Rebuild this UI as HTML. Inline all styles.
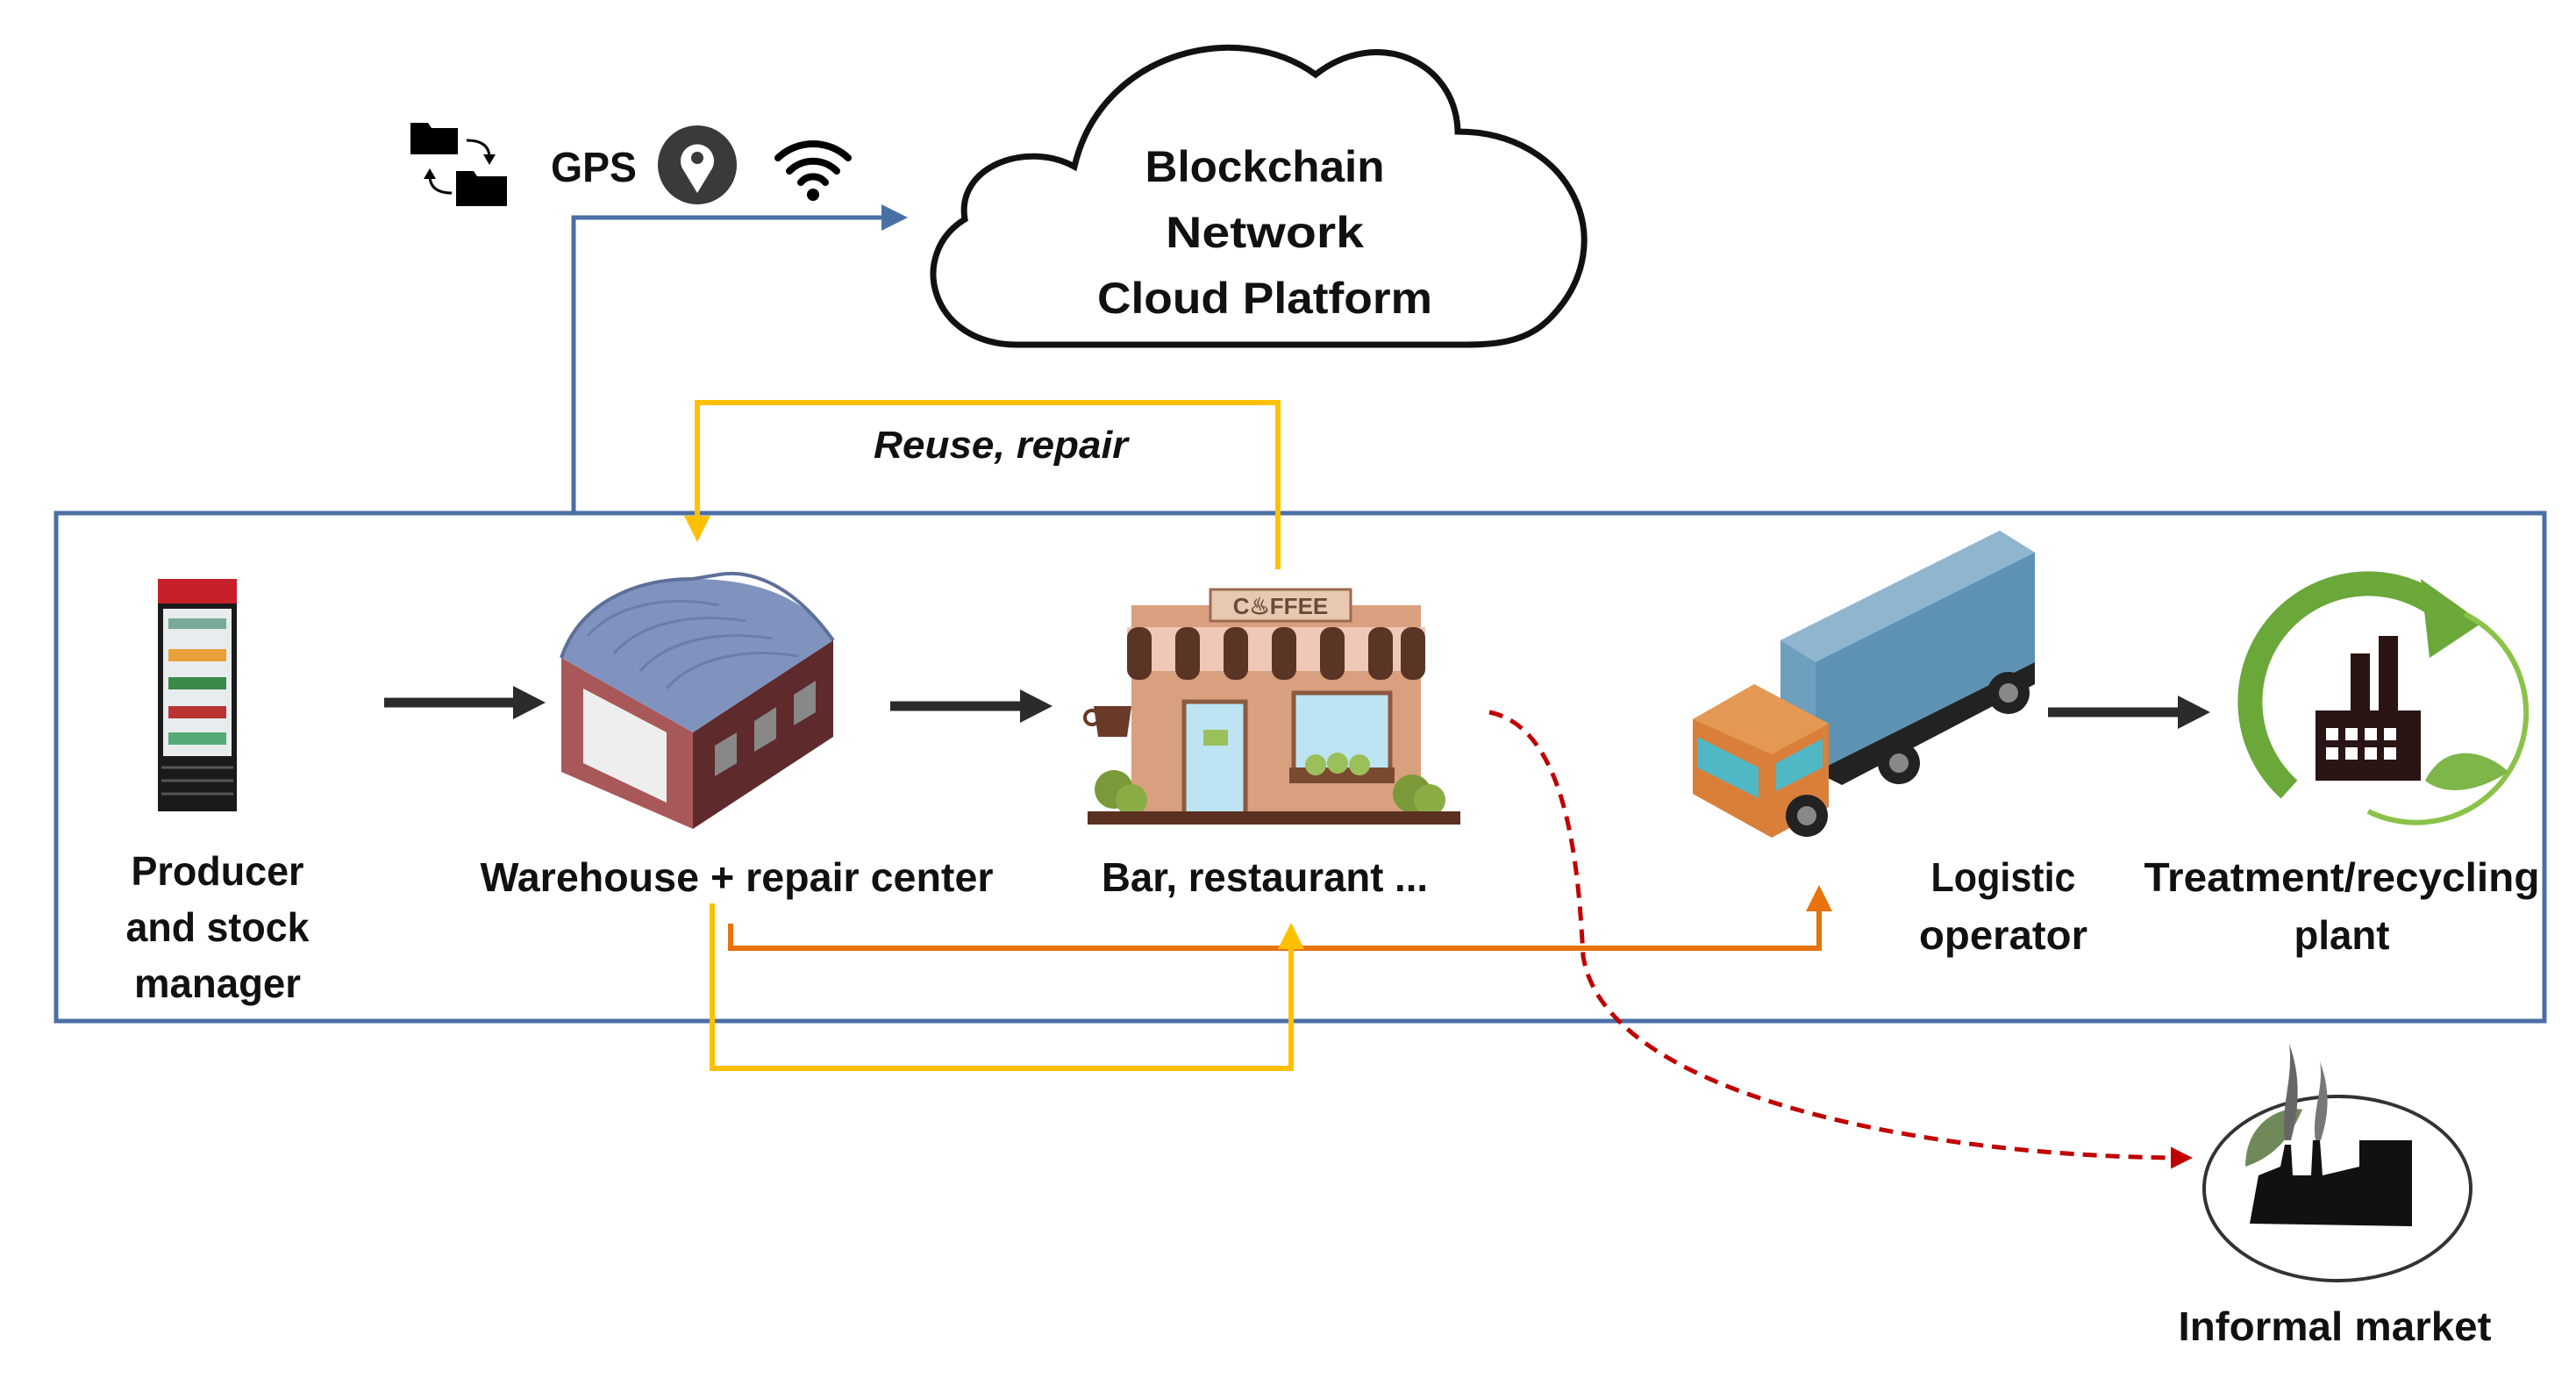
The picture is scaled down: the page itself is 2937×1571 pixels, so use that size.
<!DOCTYPE html>
<html><head><meta charset="utf-8"><style>
html,body{margin:0;padding:0;background:#fff;}
svg{display:block;}
text{font-family:"Liberation Sans",sans-serif;font-weight:bold;fill:#111;}
</style></head><body>
<svg width="2937" height="1571" viewBox="0 0 2937 1571" xmlns="http://www.w3.org/2000/svg">
<defs>
<marker id="ab" markerWidth="6" markerHeight="6" refX="5" refY="3" orient="auto" markerUnits="strokeWidth"><path d="M0,0 L6,3 L0,6 Z" fill="#4a6fa5"/></marker>
<marker id="ay" markerWidth="5" markerHeight="5" refX="4" refY="2.5" orient="auto" markerUnits="strokeWidth"><path d="M0,0 L5,2.5 L0,5 Z" fill="#ffc000"/></marker>
<marker id="ao" markerWidth="5" markerHeight="5" refX="4" refY="2.5" orient="auto" markerUnits="strokeWidth"><path d="M0,0 L5,2.5 L0,5 Z" fill="#e8720c"/></marker>
<marker id="ar" markerWidth="5" markerHeight="5" refX="4" refY="2.5" orient="auto" markerUnits="strokeWidth"><path d="M0,0 L5,2.5 L0,5 Z" fill="#c00000"/></marker>
</defs>

<!-- outer box -->
<rect x="64" y="585" width="2837" height="579" fill="none" stroke="#4a6fa5" stroke-width="5"/>

<!-- blue connector -->
<path d="M654,583 L654,248 L1030,248" fill="none" stroke="#4a6fa5" stroke-width="5" marker-end="url(#ab)"/>

<!-- cloud -->
<path d="M1160,393 C1060,393 1035,290 1100,250 C1090,190 1170,160 1225,190 C1255,60 1410,20 1500,85 C1570,30 1660,70 1662,150 C1790,150 1850,275 1770,360 C1740,393 1700,393 1660,393 Z" fill="#fff" stroke="#111" stroke-width="7"/>
<text x="1442" y="207" font-size="50" text-anchor="middle" textLength="273" lengthAdjust="spacingAndGlyphs">Blockchain</text>
<text x="1442" y="282" font-size="50" text-anchor="middle" textLength="226" lengthAdjust="spacingAndGlyphs">Network</text>
<text x="1442" y="357" font-size="50" text-anchor="middle" textLength="382" lengthAdjust="spacingAndGlyphs">Cloud Platform</text>

<!-- folders icon -->
<g fill="#000">
<path d="M468,140 L488,140 L492,146 L522,146 L522,176 L468,176 Z"/>
<path d="M520,195 L540,195 L544,201 L578,201 L578,235 L520,235 Z"/>
</g>
<path d="M532,160 Q558,160 558,180" fill="none" stroke="#000" stroke-width="3"/><path d="M551,176 L558,188 L565,176Z" fill="#000"/>
<path d="M515,220 Q490,220 490,200" fill="none" stroke="#000" stroke-width="3"/><path d="M483,204 L490,192 L497,204Z" fill="#000"/>
<!-- GPS -->
<text x="628" y="207" font-size="48" textLength="98" lengthAdjust="spacingAndGlyphs">GPS</text>
<circle cx="795" cy="188" r="45" fill="#3a3a3a"/>
<path d="M795,220 L778,192 A19,19 0 1 1 812,192 Z" fill="#fff"/>
<circle cx="795" cy="180" r="7" fill="#3a3a3a"/>
<!-- wifi -->
<g fill="none" stroke="#000" stroke-width="8" stroke-linecap="round">
<path d="M887,180 A58,58 0 0 1 967,180"/>
<path d="M900,195 A38,38 0 0 1 954,195"/>
<path d="M913,208 A18,18 0 0 1 941,208"/>
</g>
<circle cx="927" cy="222" r="7" fill="#000"/>

<!-- yellow top -->
<path d="M1457,649 L1457,459 L795,459 L795,612" fill="none" stroke="#ffc000" stroke-width="6" marker-end="url(#ay)"/>
<text x="1141" y="522" font-size="44" font-style="italic" text-anchor="middle" textLength="290" lengthAdjust="spacingAndGlyphs">Reuse, repair</text>

<!-- black arrows -->
<g stroke="#2b2b2b" stroke-width="11" fill="#2b2b2b">
<line x1="438" y1="801" x2="590" y2="801"/><path d="M585,782 L622,801 L585,820Z" stroke="none"/>
<line x1="1015" y1="805" x2="1168" y2="805"/><path d="M1163,786 L1200,805 L1163,824Z" stroke="none"/>
<line x1="2335" y1="812" x2="2488" y2="812"/><path d="M2483,793 L2520,812 L2483,831Z" stroke="none"/>
</g>

<!-- fridge -->
<rect x="180" y="660" width="90" height="265" fill="#1a1a1a"/>
<rect x="180" y="660" width="90" height="28" fill="#c8202a"/>
<rect x="186" y="694" width="78" height="168" fill="#e8ecef"/>
<g fill="#c23">
<rect x="192" y="705" width="66" height="12" fill="#7a9"/><rect x="192" y="740" width="66" height="14" fill="#e8a13a"/><rect x="192" y="772" width="66" height="14" fill="#3b8a4a"/><rect x="192" y="805" width="66" height="14" fill="#b33"/><rect x="192" y="835" width="66" height="14" fill="#5a7"/>
</g>
<g stroke="#555" stroke-width="3"><line x1="184" y1="875" x2="266" y2="875"/><line x1="184" y1="890" x2="266" y2="890"/><line x1="184" y1="905" x2="266" y2="905"/></g>

<!-- warehouse -->
<path d="M640,750 L790,835 L790,945 L640,880 Z" fill="#a9585a"/>
<path d="M790,835 L950,730 L950,840 L790,945 Z" fill="#5e2a2c"/>
<path d="M640,750 C660,690 720,660 790,660 C860,660 920,680 950,730 L790,835 Z" fill="#7f93be"/>
<path d="M640,750 C660,690 720,660 790,660 L820,655 C850,650 900,660 950,730" fill="none" stroke="#5e6f99" stroke-width="4"/>
<g stroke="#6a7ea8" stroke-width="3" fill="none">
<path d="M670,725 C700,690 760,678 820,690"/><path d="M700,745 C730,710 790,698 850,708"/><path d="M730,765 C760,730 820,718 880,728"/><path d="M760,785 C790,750 850,738 910,748"/>
</g>
<path d="M665,785 L760,835 L760,915 L665,870 Z" fill="#eee"/>
<g fill="#888"><path d="M815,850 L840,835 L840,870 L815,885Z"/><path d="M860,822 L885,806 L885,842 L860,857Z"/><path d="M905,792 L930,776 L930,812 L905,827Z"/></g>

<!-- cafe -->
<rect x="1290" y="690" width="330" height="240" fill="#d9a07f"/>
<rect x="1380" y="672" width="160" height="36" fill="#e8c8b0" stroke="#9a6a50" stroke-width="3"/>
<text x="1460" y="700" font-size="26" font-weight="normal" text-anchor="middle" fill="#6a4a3a" style="fill:#6a4a3a">C♨FFEE</text>
<g>
<rect x="1285" y="715" width="340" height="50" fill="#f0c8b8"/>
<g fill="#5a3526"><rect x="1285" y="715" width="28" height="60" rx="12"/><rect x="1340" y="715" width="28" height="60" rx="12"/><rect x="1395" y="715" width="28" height="60" rx="12"/><rect x="1450" y="715" width="28" height="60" rx="12"/><rect x="1505" y="715" width="28" height="60" rx="12"/><rect x="1560" y="715" width="28" height="60" rx="12"/><rect x="1597" y="715" width="28" height="60" rx="12"/></g>
</g>
<rect x="1350" y="800" width="70" height="130" fill="#bde4f2" stroke="#8b5a40" stroke-width="5"/>
<rect x="1475" y="790" width="110" height="90" fill="#bde4f2" stroke="#8b5a40" stroke-width="5"/>
<rect x="1372" y="832" width="28" height="18" fill="#9bc05a"/>
<rect x="1470" y="875" width="120" height="18" fill="#7a4a30"/>
<circle cx="1270" cy="900" r="22" fill="#7a9a3a"/><circle cx="1290" cy="912" r="18" fill="#8aac45"/>
<circle cx="1610" cy="905" r="22" fill="#7a9a3a"/><circle cx="1630" cy="912" r="18" fill="#8aac45"/>
<circle cx="1500" cy="872" r="12" fill="#9bc05a"/><circle cx="1525" cy="870" r="12" fill="#9bc05a"/><circle cx="1550" cy="872" r="12" fill="#9bc05a"/>
<rect x="1240" y="925" width="425" height="15" fill="#5a3020"/>
<path d="M1247,805 L1290,805 L1285,840 L1252,840 Z" fill="#6a3a28"/>
<circle cx="1245" cy="818" r="8" fill="none" stroke="#6a3a28" stroke-width="4"/>

<!-- truck -->
<path d="M2030,730 L2280,605 L2320,630 L2320,755 L2070,880 L2030,855 Z" fill="#6f9fbe"/>
<path d="M2030,730 L2280,605 L2320,630 L2070,755 Z" fill="#8fb5cf"/>
<path d="M2070,755 L2320,630 L2320,755 L2070,880 Z" fill="#5e92b3"/>
<path d="M2070,880 L2320,755 L2320,780 L2100,895 Z" fill="#222"/>
<path d="M1930,820 L2000,780 L2085,825 L2085,920 L2020,955 L1930,905 Z" fill="#d97f3a"/>
<path d="M1930,820 L2000,780 L2085,825 L2020,860 Z" fill="#e39855"/>
<path d="M1935,840 L2005,875 L2005,910 L1935,875 Z" fill="#4fb8c4"/>
<path d="M2025,870 L2078,842 L2078,875 L2025,902 Z" fill="#4fb8c4"/>
<circle cx="2060" cy="930" r="24" fill="#222"/><circle cx="2060" cy="930" r="11" fill="#888"/>
<circle cx="2165" cy="870" r="24" fill="#222"/><circle cx="2165" cy="870" r="11" fill="#888"/>
<circle cx="2290" cy="790" r="24" fill="#222"/><circle cx="2290" cy="790" r="11" fill="#888"/>

<!-- recycle -->
<path d="M2610,900 A125,125 0 1 1 2790,700" fill="none" stroke="#6aa83a" stroke-width="28"/>
<path d="M2760,660 L2830,710 L2770,750 Z" fill="#6aa83a"/>
<path d="M2810,700 A125,125 0 0 1 2700,925" fill="none" stroke="#8bc24a" stroke-width="6"/>
<path d="M2765,890 C2790,840 2840,860 2860,880 C2830,900 2790,910 2765,890 Z" fill="#7fb64a"/>
<g fill="#2a1414">
<rect x="2680" y="745" width="22" height="70"/><rect x="2712" y="725" width="22" height="90"/>
<rect x="2640" y="810" width="120" height="80"/>
</g>
<g fill="#fff"><rect x="2652" y="830" width="14" height="14"/><rect x="2674" y="830" width="14" height="14"/><rect x="2696" y="830" width="14" height="14"/><rect x="2718" y="830" width="14" height="14"/><rect x="2652" y="852" width="14" height="14"/><rect x="2674" y="852" width="14" height="14"/><rect x="2696" y="852" width="14" height="14"/><rect x="2718" y="852" width="14" height="14"/></g>

<!-- orange connector -->
<path d="M833,1053 L833,1081 L2074,1081 L2074,1015" fill="none" stroke="#e8720c" stroke-width="6" marker-end="url(#ao)"/>
<!-- yellow bottom -->
<path d="M812,1030 L812,1218 L1472,1218 L1472,1058" fill="none" stroke="#ffc000" stroke-width="6" marker-end="url(#ay)"/>
<!-- red dashed -->
<path d="M1698,812 C1790,830 1800,1000 1805,1090 C1830,1250 2200,1320 2495,1320" fill="none" stroke="#c00000" stroke-width="5" stroke-dasharray="16,10" marker-end="url(#ar)"/>

<!-- informal market -->
<ellipse cx="2665" cy="1355" rx="152" ry="105" fill="none" stroke="#333" stroke-width="4"/>
<path d="M2565,1395 L2575,1340 L2600,1330 L2605,1305 L2612,1305 L2614,1340 L2635,1340 L2637,1300 L2645,1300 L2648,1340 L2690,1330 L2690,1300 L2750,1300 L2750,1398 Z" fill="#111"/>
<path d="M2560,1330 C2560,1280 2600,1260 2625,1265 C2610,1300 2590,1320 2560,1330Z" fill="#6f8a58"/>
<path d="M2605,1300 C2600,1260 2615,1230 2610,1190 C2625,1230 2620,1270 2612,1300Z" fill="#666"/>
<path d="M2640,1300 C2635,1270 2650,1240 2645,1210 C2660,1250 2652,1280 2646,1300Z" fill="#777"/>

<!-- labels -->
<g font-size="46" text-anchor="middle">
<text x="248" y="1009" textLength="197" lengthAdjust="spacingAndGlyphs">Producer</text>
<text x="248" y="1073" textLength="209" lengthAdjust="spacingAndGlyphs">and stock</text>
<text x="248" y="1137" textLength="190" lengthAdjust="spacingAndGlyphs">manager</text>
<text x="840" y="1016" textLength="585" lengthAdjust="spacingAndGlyphs">Warehouse + repair center</text>
<text x="1442" y="1016" textLength="372" lengthAdjust="spacingAndGlyphs">Bar, restaurant ...</text>
<text x="2284" y="1016" textLength="165" lengthAdjust="spacingAndGlyphs">Logistic</text>
<text x="2284" y="1082" textLength="192" lengthAdjust="spacingAndGlyphs">operator</text>
<text x="2670" y="1016" textLength="451" lengthAdjust="spacingAndGlyphs">Treatment/recycling</text>
<text x="2670" y="1082" textLength="109" lengthAdjust="spacingAndGlyphs">plant</text>
<text x="2662" y="1528" textLength="357" lengthAdjust="spacingAndGlyphs">Informal market</text>
</g>
</svg>
</body></html>
